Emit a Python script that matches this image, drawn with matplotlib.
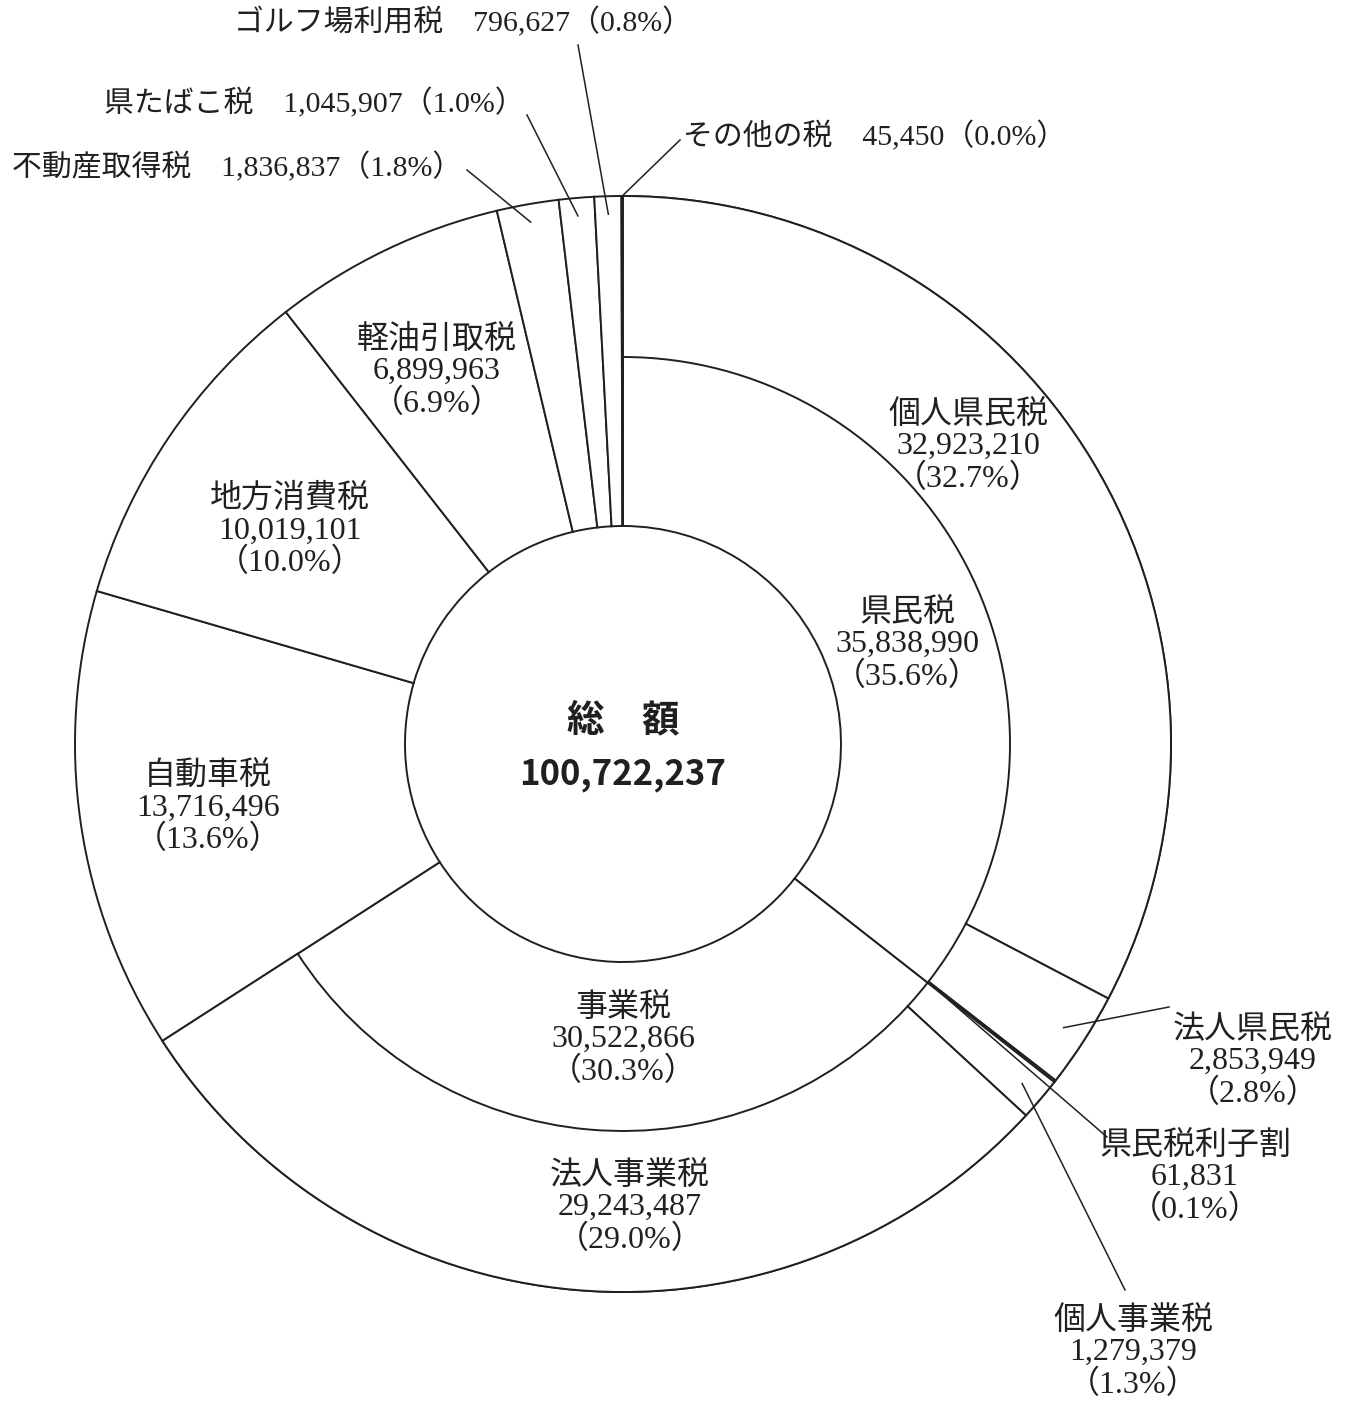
import numpy as np
import matplotlib.pyplot as plt

plt.rcParams['font.family'] = ['Liberation Serif', 'Noto Sans CJK JP']

W, H = 1346, 1404
CX, CY = 623, H - 744
R_OUT, R_MID, R_IN = 548, 387, 218
INK = '#231f20'
FS = 23

# 税目（時計回り、上から）
main_names = ['県民税', '事業税', '自動車税', '地方消費税', '軽油引取税',
              '不動産取得税', '県たばこ税', 'ゴルフ場利用税', 'その他の税']
main_values = [35838990, 30522866, 13716496, 10019101, 6899963,
               1836837, 1045907, 796627, 45450]
main_pcts = [35.6, 30.3, 13.6, 10.0, 6.9, 1.8, 1.0, 0.8, 0.0]

# 県民税・事業税の内訳
sub_names = ['個人県民税', '法人県民税', '県民税利子割', '個人事業税', '法人事業税']
sub_values = [32923210, 2853949, 61831, 1279379, 29243487]
sub_pcts = [32.7, 2.8, 0.1, 1.3, 29.0]

total = 100722237

fig = plt.figure(figsize=(W / 100, H / 100), dpi=100)
ax = fig.add_axes([0, 0, 1, 1])

wp = dict(facecolor='white', edgecolor=INK, linewidth=1.4)
ax.pie(main_values, radius=R_OUT, center=(CX, CY), startangle=90,
       counterclock=False, frame=True,
       wedgeprops=dict(width=R_OUT - R_IN, **wp))
ax.pie([v / total for v in sub_values], radius=R_OUT, center=(CX, CY),
       startangle=90, counterclock=False, normalize=False, frame=True,
       wedgeprops=dict(width=R_OUT - R_MID, **wp))

ax.set_xlim(0, W)
ax.set_ylim(0, H)
ax.set_aspect('equal')
ax.axis('off')


def mid_point(values, idx, r):
    # 扇形の中央角の位置（y は上から測る）
    c = sum(values[:idx]) + values[idx] / 2
    a = np.deg2rad(90 - 360 * c / total)
    return CX + r * np.cos(a), H - (CY + r * np.sin(a))


def label(x, y, name, v, p, **kw):
    ax.text(x, H - y, f'{name}\n{v:,}\n（{p:.1f}%）', ha='center', va='center',
            multialignment='center', fontsize=FS, linespacing=1.1, color=INK, **kw)


def leader(p0, p1):
    ax.plot([p0[0], p1[0]], [H - p0[1], H - p1[1]], color=INK, lw=1.1)


# リング内のラベル
label(968, 447, sub_names[0], sub_values[0], sub_pcts[0])
label(907, 645, main_names[0], main_values[0], main_pcts[0])
label(623, 1040, main_names[1], main_values[1], main_pcts[1])
label(630, 1208, sub_names[4], sub_values[4], sub_pcts[4])
label(208, 808, main_names[2], main_values[2], main_pcts[2])
label(290, 531, main_names[3], main_values[3], main_pcts[3])
label(437, 372, main_names[4], main_values[4], main_pcts[4])

# 外側のラベルと引出線
label(1253, 1062, sub_names[1], sub_values[1], sub_pcts[1])
leader(mid_point(sub_values, 1, 524), (1169, 1007))
label(1195, 1178, sub_names[2], sub_values[2], sub_pcts[2])
leader(mid_point(sub_values, 2, R_MID), (1107, 1137))
label(1133, 1353, sub_names[3], sub_values[3], sub_pcts[3])
leader(mid_point(sub_values, 3, 524), (1125, 1290))

top = [(7, 692, 22, 'right', (578, 45)),
       (6, 525, 103, 'right', (527, 115)),
       (5, 462, 167, 'right', (467, 170)),
       (8, 683, 136, 'left', (680, 140))]
for i, x, y, ha, p1 in top:
    ax.text(x, H - y, f'{main_names[i]}\u3000{main_values[i]:,}（{main_pcts[i]:.1f}%）',
            ha=ha, va='center', fontsize=21.5, color=INK)
    r = R_OUT if i == 8 else 530
    leader(mid_point(main_values, i, r), p1)

# 中央の総額
ax.text(CX, H - 720, '総\u3000額', ha='center', va='center', fontsize=27,
        fontweight='bold', family=['Noto Sans CJK JP'], color=INK)
ax.text(CX, H - 775, f'{total:,}', ha='center', va='center', fontsize=25,
        fontweight='bold', family=['Noto Sans CJK JP'], color=INK)

fig.savefig('out.png', dpi=100, facecolor='white')
